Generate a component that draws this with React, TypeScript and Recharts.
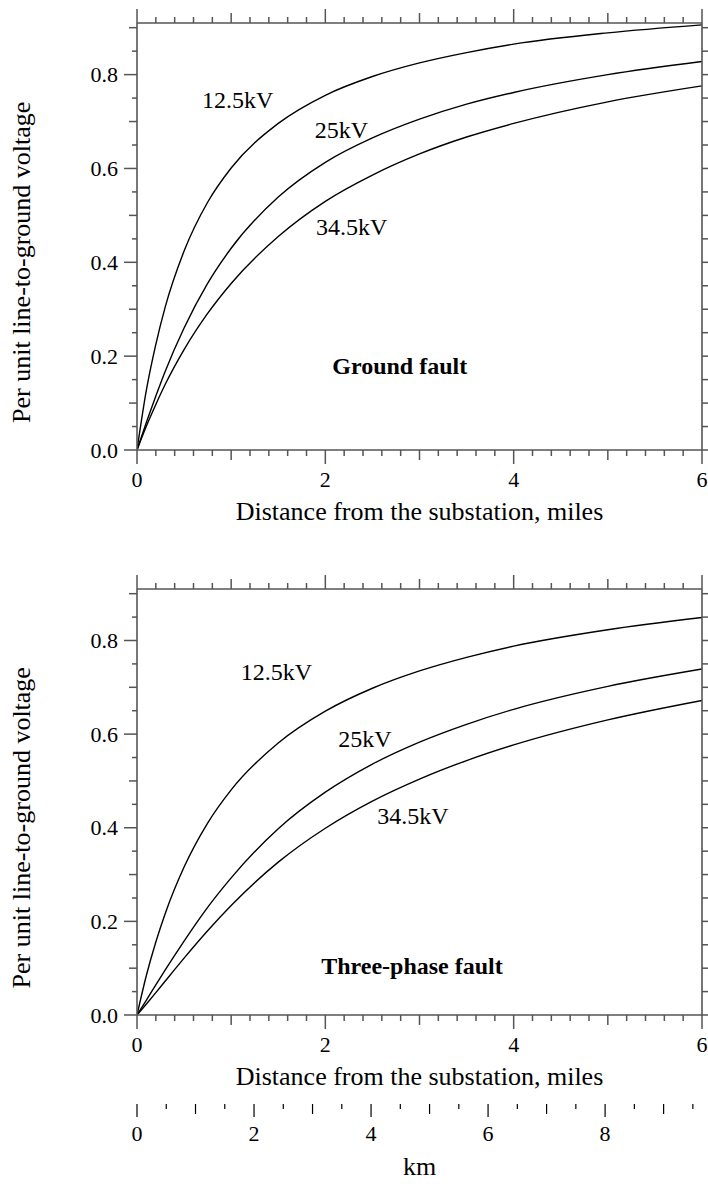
import React from 'react';
import { LineChart, Line, XAxis, YAxis, ReferenceDot } from 'recharts';

// distance from the substation, miles
const DIST = [0, 0.1, 0.2, 0.3, 0.5, 0.75, 1, 1.5, 2, 2.5, 3, 3.5, 4, 5, 6];
// Ground fault
const GROUND_12_5 = [0, 0.128, 0.225, 0.305, 0.424, 0.528, 0.601, 0.696, 0.756, 0.796, 0.825, 0.847, 0.865, 0.889, 0.906];
const GROUND_25 = [0, 0.059, 0.115, 0.168, 0.26, 0.355, 0.43, 0.539, 0.613, 0.665, 0.705, 0.737, 0.762, 0.8, 0.828];
const GROUND_34_5 = [0, 0.051, 0.097, 0.14, 0.214, 0.291, 0.355, 0.455, 0.53, 0.586, 0.631, 0.667, 0.696, 0.742, 0.776];
// Three-phase fault
const THREE_12_5 = [0, 0.085, 0.156, 0.217, 0.316, 0.41, 0.481, 0.581, 0.649, 0.698, 0.735, 0.764, 0.788, 0.823, 0.849];
const THREE_25 = [0, 0.032, 0.0645, 0.0965, 0.158, 0.23, 0.293, 0.398, 0.476, 0.536, 0.583, 0.621, 0.653, 0.702, 0.739];
const THREE_34_5 = [0, 0.0236, 0.0478, 0.0725, 0.1215, 0.18, 0.234, 0.3265, 0.399, 0.457, 0.504, 0.5435, 0.577, 0.6305, 0.672];

const SERIES_NAMES = ['12.5kV', '25kV', '34.5kV'];
// label anchors [miles, per unit]
const GROUND_LABEL_POS = [[1.07, 0.748], [2.17, 0.684], [2.28, 0.476]];
const THREE_LABEL_POS = [[1.48, 0.733], [2.42, 0.59], [2.93, 0.426]];
const GROUND_TITLE_POS = [2.79, 0.181];
const THREE_TITLE_POS = [2.92, 0.105];

const MILE_LABELS = [0, 2, 4, 6];
const Y_LABELS = [0, 0.2, 0.4, 0.6, 0.8];
const KM_LABELS = [0, 2, 4, 6, 8];
const MILE_MAX = 6;
const Y_MAX = 0.91;
const KM_PER_MILE = 1.609344;

const MILE_TICKS = Array.from({ length: 31 }, (_, i) => (i * 2) / 10);
const Y_TICKS = Array.from({ length: 19 }, (_, i) => (i * 5) / 100);
const KM_TICKS = Array.from({ length: 20 }, (_, i) => i / 2);

const FONT = '"Liberation Serif", "Times New Roman", Times, serif';
const AXIS = '#555';
const TICK_FS = 22;

const buildData = (a: number[], b: number[], c: number[]) =>
  DIST.map((d, i) => ({ d, km: d * KM_PER_MILE, v1: a[i], v2: b[i], v3: c[i] }));

const groundData = buildData(GROUND_12_5, GROUND_25, GROUND_34_5);
const threeData = buildData(THREE_12_5, THREE_25, THREE_34_5);

const mileLen = (v: number) => {
  const k = Math.round(v * 5);
  return k % 10 === 0 ? 14 : k % 5 === 0 ? 10 : 6;
};

const MileTickBottom = (props: any) => {
  const { x, y, payload } = props;
  const v = payload.value;
  const r = Math.round(v * 10) / 10;
  return (
    <g>
      <line x1={x} x2={x} y1={y} y2={y + mileLen(v)} stroke={AXIS} strokeWidth={1.5} />
      {MILE_LABELS.includes(r) && (
        <text x={x} y={y + 37} textAnchor="middle" fontSize={TICK_FS} fontFamily={FONT} fill="#000">
          {r}
        </text>
      )}
    </g>
  );
};

const MileTickTop = (props: any) => {
  const { x, y, payload } = props;
  return <line x1={x} x2={x} y1={y} y2={y - mileLen(payload.value)} stroke={AXIS} strokeWidth={1.5} />;
};

const YTickLeft = (props: any) => {
  const { x, y, payload } = props;
  const v = payload.value;
  const k = Math.round(v * 100);
  const major = k % 20 === 0;
  const mid = k % 10 === 0;
  const len = major ? 13 : mid ? 8 : 5;
  return (
    <g>
      <line x1={x - len} x2={x} y1={y} y2={y} stroke={AXIS} strokeWidth={1.5} />
      {Y_LABELS.some((l) => Math.round(l * 100) === k) && (
        <text x={x - 19} y={y + 7.5} textAnchor="end" fontSize={TICK_FS} fontFamily={FONT} fill="#000">
          {(k / 100).toFixed(1)}
        </text>
      )}
    </g>
  );
};

const YTickRight = (props: any) => {
  const { x, y } = props;
  return <line x1={x} x2={x + 6} y1={y} y2={y} stroke={AXIS} strokeWidth={1.5} />;
};

const KmTick = (props: any) => {
  const { x, y, payload } = props;
  const v = payload.value;
  const k = Math.round(v * 2);
  const len = k % 4 === 0 ? 13 : k % 2 === 0 ? 10 : 5;
  return (
    <g>
      <line x1={x} x2={x} y1={y} y2={y + len} stroke="#000" strokeWidth={1.2} />
      {KM_LABELS.includes(v) && (
        <text x={x} y={y + 37} textAnchor="middle" fontSize={TICK_FS} fontFamily={FONT} fill="#000">
          {v}
        </text>
      )}
    </g>
  );
};

const YTitle = (props: any) => {
  const vb = props.viewBox || {};
  const top = vb.y ?? 0;
  const h = vb.height ?? 0;
  const cy = top + h * (1 - 0.4 / Y_MAX);
  const bx = 30;
  return (
    <text
      x={bx}
      y={cy}
      transform={`rotate(-90 ${bx} ${cy})`}
      textAnchor="middle"
      fontSize={26}
      fontFamily={FONT}
      fill="#000"
    >
      Per unit line-to-ground voltage
    </text>
  );
};

const labelStyle = { fontSize: 24, fontFamily: FONT, fill: '#000' };

const Panel = ({
  data,
  height,
  topH,
  bottomH,
  titleOffset,
  labelPos,
  title,
  titlePos,
  withKm,
}: any) => (
  <LineChart width={708} height={height} data={data} margin={{ top: 0, right: 0, bottom: 0, left: 0 }}>
    <XAxis
      xAxisId="bottom"
      dataKey="d"
      type="number"
      domain={[0, MILE_MAX]}
      allowDataOverflow
      ticks={MILE_TICKS}
      interval={0}
      height={bottomH}
      tickSize={0}
      tickMargin={0}
      tickLine={false}
      axisLine={{ stroke: AXIS, strokeWidth: 1.6 }}
      tick={MileTickBottom}
      label={{
        value: 'Distance from the substation, miles',
        position: 'insideBottom',
        offset: titleOffset,
        fontSize: 26,
        fontFamily: FONT,
        fill: '#000',
      }}
    />
    {withKm && (
      <XAxis
        xAxisId="km"
        dataKey="km"
        type="number"
        domain={[0, MILE_MAX * KM_PER_MILE]}
        allowDataOverflow
        ticks={KM_TICKS}
        interval={0}
        height={82}
        tickSize={0}
        tickMargin={0}
        tickLine={false}
        axisLine={false}
        tick={KmTick}
        label={{ value: 'km', position: 'insideBottom', offset: 11, fontSize: 26, fontFamily: FONT, fill: '#000' }}
      />
    )}
    <XAxis
      xAxisId="top"
      dataKey="d"
      orientation="top"
      type="number"
      domain={[0, MILE_MAX]}
      allowDataOverflow
      ticks={MILE_TICKS}
      interval={0}
      height={topH}
      tickSize={0}
      tickMargin={0}
      tickLine={false}
      axisLine={{ stroke: AXIS, strokeWidth: 1.6 }}
      tick={MileTickTop}
    />
    <YAxis
      yAxisId="left"
      type="number"
      domain={[0, Y_MAX]}
      allowDataOverflow
      ticks={Y_TICKS}
      interval={0}
      width={137}
      tickSize={0}
      tickMargin={0}
      tickLine={false}
      axisLine={{ stroke: AXIS, strokeWidth: 1.6 }}
      tick={YTickLeft}
      label={{ content: YTitle }}
    />
    <YAxis
      yAxisId="right"
      orientation="right"
      type="number"
      domain={[0, Y_MAX]}
      allowDataOverflow
      ticks={Y_TICKS}
      interval={0}
      width={6}
      tickSize={0}
      tickMargin={0}
      tickLine={false}
      axisLine={{ stroke: AXIS, strokeWidth: 1.6 }}
      tick={YTickRight}
    />
    {['v1', 'v2', 'v3'].map((k) => (
      <Line
        key={k}
        xAxisId="bottom"
        yAxisId="left"
        dataKey={k}
        type="monotone"
        stroke="#000"
        strokeWidth={1.4}
        dot={false}
        isAnimationActive={false}
      />
    ))}
    {labelPos.map((p: number[], i: number) => (
      <ReferenceDot
        key={i}
        xAxisId="bottom"
        yAxisId="left"
        x={p[0]}
        y={p[1]}
        r={0}
        fill="none"
        stroke="none"
        label={{ value: SERIES_NAMES[i], position: 'center', ...labelStyle }}
      />
    ))}
    <ReferenceDot
      xAxisId="bottom"
      yAxisId="left"
      x={titlePos[0]}
      y={titlePos[1]}
      r={0}
      fill="none"
      stroke="none"
      label={{ value: title, position: 'center', ...labelStyle, fontWeight: 'bold' }}
    />
  </LineChart>
);

export default function App() {
  return (
    <div style={{ position: 'absolute', left: 0, top: 0, width: 708, height: 1186, background: '#fff' }}>
      <Panel
        data={groundData}
        height={560}
        topH={23}
        bottomH={110}
        titleOffset={40}
        labelPos={GROUND_LABEL_POS}
        title="Ground fault"
        titlePos={GROUND_TITLE_POS}
        withKm={false}
      />
      <Panel
        data={threeData}
        height={626}
        topH={29}
        bottomH={89}
        titleOffset={19}
        labelPos={THREE_LABEL_POS}
        title="Three-phase fault"
        titlePos={THREE_TITLE_POS}
        withKm={true}
      />
    </div>
  );
}
